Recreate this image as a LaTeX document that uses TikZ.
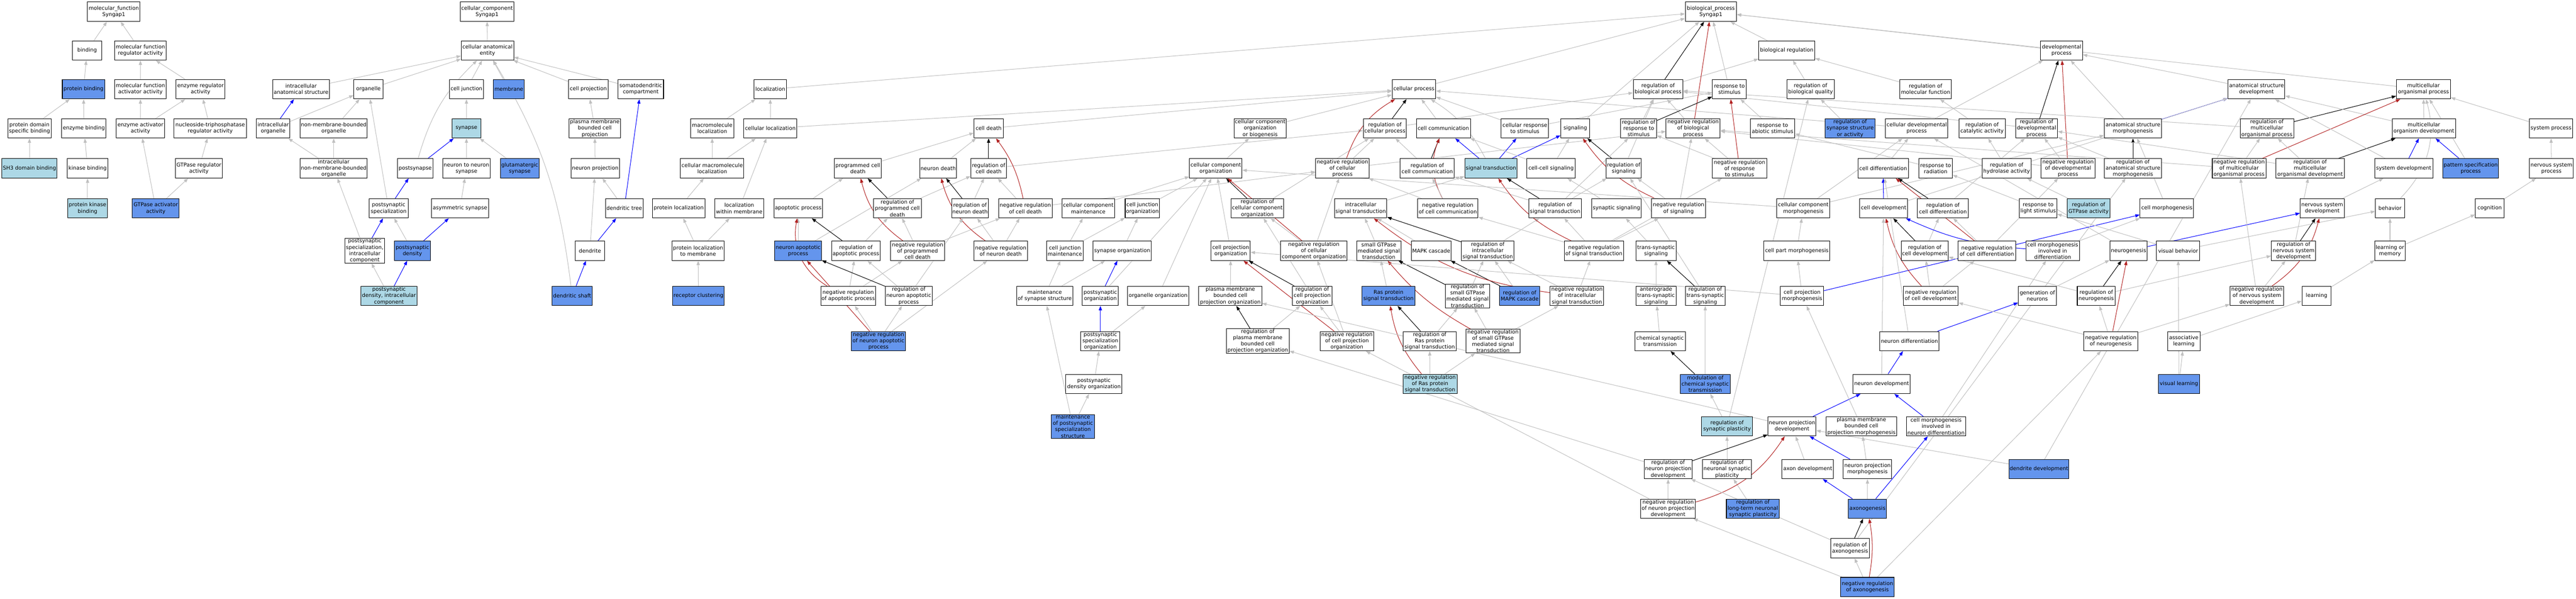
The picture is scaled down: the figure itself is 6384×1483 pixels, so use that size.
\documentclass[tikz,border=0pt]{standalone}
\usepackage{fontspec}
\setmainfont{DejaVu Sans}
\usepackage{tikz}
\usetikzlibrary{arrows.meta, backgrounds, positioning}
\definecolor{hitblue}{HTML}{6495ED}
\definecolor{hitlight}{HTML}{ADD8E6}
\definecolor{isagray}{HTML}{C0C0C0}
\definecolor{negred}{HTML}{B22222}
\tikzset{
	term/.style={draw=black, line width=1.3pt, fill=white, rectangle, align=center,
		minimum height=48pt, inner xsep=2pt, inner ysep=1pt,
		font=\fontsize{13pt}{15.5pt}\selectfont},
	hit/.style={term, fill=hitblue},
	hitl/.style={term, fill=hitlight},
	wd/.style={minimum width=#1pt}
}

\begin{document}
\begin{tikzpicture}[x=1pt, y=-1pt,
	isa/.style={draw=isagray, line width=1.3pt, -{Triangle[length=11pt,width=8pt]}},
	partof/.style={isa, draw=blue},
	reg/.style={isa, draw=black},
	negreg/.style={isa, draw=negred}]
\useasboundingbox (0,0) rectangle (6384,1483);

% row 0
\node[term,wd=130] (mf) at (282,29) {molecular\_function\\Syngap1};
\node[term,wd=133] (cc) at (1207,29) {cellular\_component\\Syngap1};
\node[term,wd=127] (bp) at (4240,29) {biological\_process\\Syngap1};

% row 1
\node[term,wd=72] (bind) at (216,125) {binding};
\node[term,wd=128] (mfra) at (348,125) {molecular function\\regulator activity};
\node[term,wd=130] (cae) at (1208,125) {cellular anatomical\\entity};
\node[term,wd=139] (bioreg) at (4428,125) {biological regulation};
\node[term,wd=104] (devp) at (5109,125) {developmental\\process};

% row 2
\node[hit,wd=105] (pbind) at (207,221) {protein binding};
\node[term,wd=128] (mfaa) at (348,221) {molecular function\\activator activity};
\node[term,wd=121] (enzra) at (497,221) {enzyme regulator\\activity};
\node[term,wd=141] (ias) at (746,221) {intracellular\\anatomical structure};
\node[term,wd=72] (orgl) at (913,221) {organelle};
\node[term,wd=84] (cjunc) at (1156,221) {cell junction};
\node[hit,wd=77] (memb) at (1261,221) {membrane};
\node[term,wd=99] (cproj) at (1458,221) {cell projection};
\node[term,wd=113] (sdc) at (1588,221) {somatodendritic\\compartment};
\node[term,wd=81] (loc) at (1909,221) {localization};
\node[term,wd=108] (cellp) at (3504,221) {cellular process};
\node[term,wd=123] (rbp) at (4109,221) {regulation of\\biological process};
\node[term,wd=84] (rstim) at (4286,221) {response to\\stimulus};
\node[term,wd=118] (rbq) at (4487,221) {regulation of\\biological quality};
\node[term,wd=128] (rmf) at (4772,221) {regulation of\\molecular function};
\node[term,wd=141] (asd) at (5592,221) {anatomical structure\\development};
\node[term,wd=134] (mop) at (6006,221) {multicellular\\organismal process};

% row 3
\node[term,wd=107] (pdsb) at (73,318) {protein domain\\specific binding};
\node[term,wd=110] (enzb) at (208,318) {enzyme binding};
\node[term,wd=120] (enzaa) at (348,318) {enzyme activator\\activity};
\node[term,wd=179] (ntpra) at (521,318) {nucleoside-triphosphatase\\regulator activity};
\node[term,wd=83] (iorg) at (677,318) {intracellular\\organelle};
\node[term,wd=166] (nmbo) at (827,318) {non-membrane-bounded\\organelle};
\node[hitl,wd=72] (syn) at (1156,318) {synapse};
\node[term,wd=128] (pmbcp) at (1474,318) {plasma membrane\\bounded cell\\projection};
\node[term,wd=107] (mloc) at (1765,318) {macromolecule\\localization};
\node[term,wd=132] (cloc) at (1909,318) {cellular localization};
\node[term,wd=72] (cdeath) at (2450,318) {cell death};
\node[term,wd=130] (ccob) at (3123,318) {cellular component\\organization\\or biogenesis};
\node[term,wd=107] (rcp) at (3432,318) {regulation of\\cellular process};
\node[term,wd=134] (ccomm) at (3577,318) {cell communication};
\node[term,wd=117] (crs) at (3779,318) {cellular response\\to stimulus};
\node[term,wd=72] (sig) at (3904,318) {signaling};
\node[term,wd=89] (rrs) at (4061,318) {regulation of\\response to\\stimulus};
\node[term,wd=134] (nrbp) at (4196,318) {negative regulation\\of biological\\process};
\node[term,wd=110] (ras) at (4393,318) {response to\\abiotic stimulus};
\node[hit,wd=123] (rssa) at (4585,318) {regulation of\\synapse structure\\or activity};
\node[term,wd=155] (cdp) at (4750,318) {cellular developmental\\process};
\node[term,wd=115] (rca) at (4912,318) {regulation of\\catalytic activity};
\node[term,wd=104] (rdp) at (5047,318) {regulation of\\developmental\\process};
\node[term,wd=142] (asm) at (5286,318) {anatomical structure\\morphogenesis};
\node[term,wd=133] (rmop) at (5618,318) {regulation of\\multicellular\\organismal process};
\node[term,wd=157] (mod) at (6007,318) {multicellular\\organism development};
\node[term,wd=107] (sysp) at (6322,318) {system process};

% row 4
\node[hitl,wd=137] (sh3) at (73,417) {SH3 domain binding};
\node[term,wd=101] (kinb) at (217,417) {kinase binding};
\node[term,wd=117] (gtpra) at (493,417) {GTPase regulator\\activity};
\node[term,wd=166] (inmbo) at (827,417) {intracellular\\non-membrane-bounded\\organelle};
\node[term,wd=89] (psyn) at (1029,417) {postsynapse};
\node[term,wd=118] (n2n) at (1156,417) {neuron to neuron\\synapse};
\node[hit,wd=96] (gsyn) at (1288,417) {glutamatergic\\synapse};
\node[term,wd=120] (nproj) at (1475,417) {neuron projection};
\node[term,wd=157] (cmloc) at (1765,417) {cellular macromolecule\\localization};
\node[term,wd=117] (pcd) at (2126,417) {programmed cell\\death};
\node[term,wd=91] (ndeath) at (2325,417) {neuron death};
\node[term,wd=88] (rcd) at (2450,417) {regulation of\\cell death};
\node[term,wd=130] (cco) at (3013,417) {cellular component\\organization};
\node[term,wd=133] (nrcp) at (3327,417) {negative regulation\\of cellular\\process};
\node[term,wd=134] (rcc) at (3537,417) {regulation of\\cell communication};
\node[hitl,wd=130] (st) at (3695,417) {signal transduction};
\node[term,wd=120] (ccs) at (3844,417) {cell-cell signaling};
\node[term,wd=87] (rsig) at (4024,417) {regulation of\\signaling};
\node[term,wd=135] (nrrs) at (4311,417) {negative regulation\\of response\\to stimulus};
\node[term,wd=125] (cdiff) at (4667,417) {cell differentiation};
\node[term,wd=83] (rrad) at (4797,417) {response to\\radiation};
\node[term,wd=122] (rha) at (4973,417) {regulation of\\hydrolase activity};
\node[term,wd=133] (nrdp) at (5125,417) {negative regulation\\of developmental\\process};
\node[term,wd=142] (rasm) at (5286,417) {regulation of\\anatomical structure\\morphogenesis};
\node[term,wd=133] (nrmop) at (5549,417) {negative regulation\\of multicellular\\organismal process};
\node[term,wd=169] (rmod) at (5725,417) {regulation of\\multicellular\\organismal development};
\node[term,wd=144] (sysd) at (5957,417) {system development};
\node[hit,wd=138] (psp) at (6123,417) {pattern specification\\process};
\node[term,wd=109] (nsp) at (6323,417) {nervous system\\process};

% row 5
\node[hitl,wd=99] (pkb) at (217,516) {protein kinase\\binding};
\node[hit,wd=116] (gtpaa) at (386,516) {GTPase activator\\activity};
\node[term,wd=97] (pss) at (963,516) {postsynaptic\\specialization};
\node[term,wd=142] (asyn) at (1140,516) {asymmetric synapse};
\node[term,wd=93] (dtree) at (1547,516) {dendritic tree};
\node[term,wd=130] (ploc) at (1682,516) {protein localization};
\node[term,wd=121] (lwm) at (1832,516) {localization\\within membrane};
\node[term,wd=120] (apop) at (1978,516) {apoptotic process};
\node[term,wd=118] (rpcd) at (2224,516) {regulation of\\programmed cell\\death};
\node[term,wd=91] (rnd) at (2404,516) {regulation of\\neuron death};
\node[term,wd=133] (nrcd) at (2541,516) {negative regulation\\of cell death};
\node[term,wd=131] (ccm) at (2697,516) {cellular component\\maintenance};
\node[term,wd=85] (cjo) at (2831,516) {cell junction\\organization};
\node[term,wd=130] (rcco) at (3116,516) {regulation of\\cellular component\\organization};
\node[term,wd=130] (ist) at (3372,516) {intracellular\\signal transduction};
\node[term,wd=150] (nrcc) at (3588,516) {negative regulation\\of cell communication};
\node[term,wd=130] (rst) at (3854,516) {regulation of\\signal transduction};
\node[term,wd=123] (ssig) at (4006,516) {synaptic signaling};
\node[term,wd=134] (nrsig) at (4160,516) {negative regulation\\of signaling};
\node[term,wd=131] (ccmorph) at (4469,516) {cellular component\\morphogenesis};
\node[term,wd=118] (cdev) at (4668,516) {cell development};
\node[term,wd=126] (rcdiff) at (4815,516) {regulation of\\cell differentiation};
\node[term,wd=93] (rls) at (5051,516) {response to\\light stimulus};
\node[hitl,wd=106] (rgtpa) at (5176,516) {regulation of\\GTPase activity};
\node[term,wd=133] (cmorph) at (5370,516) {cell morphogenesis};
\node[term,wd=109] (nsd) at (5755,516) {nervous system\\development};
\node[term,wd=72] (behav) at (5923,516) {behavior};
\node[term,wd=71] (cogn) at (6170,516) {cognition};

% row 6
\node[term,wd=99] (pssic) at (904,621) {postsynaptic\\specialization,\\intracellular\\component};
\node[hit,wd=89] (psd) at (1022,621) {postsynaptic\\density};
\node[term,wd=73] (dend) at (1462,621) {dendrite};
\node[term,wd=130] (plm) at (1730,621) {protein localization\\to membrane};
\node[hit,wd=116] (napop) at (1978,621) {neuron apoptotic\\process};
\node[term,wd=120] (rap) at (2121,621) {regulation of\\apoptotic process};
\node[term,wd=133] (nrpcd) at (2274,621) {negative regulation\\of programmed\\cell death};
\node[term,wd=133] (nrnd) at (2480,621) {negative regulation\\of neuron death};
\node[term,wd=90] (cjm) at (2639,621) {cell junction\\maintenance};
\node[term,wd=144] (sorg) at (2781,621) {synapse organization};
\node[term,wd=97] (cpo) at (3050,621) {cell projection\\organization};
\node[term,wd=164] (nrcco) at (3256,621) {negative regulation\\of cellular\\component organization};
\node[term,wd=110] (sgst) at (3417,621) {small GTPase\\mediated signal\\transduction};
\node[term,wd=99] (mapk) at (3547,621) {MAPK cascade};
\node[term,wd=130] (rist) at (3687,621) {regulation of\\intracellular\\signal transduction};
\node[term,wd=147] (nrst) at (3950,621) {negative regulation\\of signal transduction};
\node[term,wd=99] (tss) at (4104,621) {trans-synaptic\\signaling};
\node[term,wd=163] (cpm) at (4453,621) {cell part morphogenesis};
\node[term,wd=117] (rcdev) at (4770,621) {regulation of\\cell development};
\node[term,wd=142] (nrcdiff) at (4924,621) {negative regulation\\of cell differentiation};
\node[term,wd=133] (cmid) at (5087,621) {cell morphogenesis\\involved in\\differentiation};
\node[term,wd=93] (ngen) at (5275,621) {neurogenesis};
\node[term,wd=107] (vbeh) at (5398,621) {visual behavior};
\node[term,wd=110] (rnsd) at (5684,621) {regulation of\\nervous system\\development};
\node[term,wd=75] (lom) at (5923,621) {learning or\\memory};

% row 7
\node[hitl,wd=139] (psdic) at (964,733) {postsynaptic\\density, intracellular\\component};
\node[hit,wd=99] (dshaft) at (1418,733) {dendritic shaft};
\node[hit,wd=128] (rclust) at (1731,733) {receptor clustering};
\node[term,wd=133] (nrap) at (2102,733) {negative regulation\\of apoptotic process};
\node[term,wd=116] (rnap) at (2252,733) {regulation of\\neuron apoptotic\\process};
\node[term,wd=139] (mss) at (2589,733) {maintenance\\of synapse structure};
\node[term,wd=89] (pso) at (2727,733) {postsynaptic\\organization};
\node[term,wd=152] (oorg) at (2870,733) {organelle organization};
\node[term,wd=156] (pmbcpo) at (3049,733) {plasma membrane\\bounded cell\\projection organization};
\node[term,wd=99] (rcpo) at (3252,733) {regulation of\\cell projection\\organization};
\node[hit,wd=131] (rpst) at (3441,733) {Ras protein\\signal transduction};
\node[term,wd=110] (rsgst) at (3637,733) {regulation of\\small GTPase\\mediated signal\\transduction};
\node[hit,wd=100] (rmapk) at (3766,733) {regulation of\\MAPK cascade};
\node[term,wd=133] (nrist) at (3908,733) {negative regulation\\of intracellular\\signal transduction};
\node[term,wd=99] (atss) at (4104,733) {anterograde\\trans-synaptic\\signaling};
\node[term,wd=99] (rtss) at (4226,733) {regulation of\\trans-synaptic\\signaling};
\node[term,wd=107] (cpmorph) at (4466,733) {cell projection\\morphogenesis};
\node[term,wd=136] (nrcdev) at (4785,733) {negative regulation\\of cell development};
\node[term,wd=94] (genn) at (5049,733) {generation of\\neurons};
\node[term,wd=94] (rngen) at (5195,733) {regulation of\\neurogenesis};
\node[term,wd=133] (nrnsd) at (5593,733) {negative regulation\\of nervous system\\development};
\node[term,wd=72] (learn) at (5741,733) {learning};

% row 8
\node[hit,wd=134] (nrnap) at (2177,845) {negative regulation\\of neuron apoptotic\\process};
\node[term,wd=97] (psso) at (2727,845) {postsynaptic\\specialization\\organization};
\node[term,wd=156] (rpmbcpo) at (3117,845) {regulation of\\plasma membrane\\bounded cell\\projection organization};
\node[term,wd=133] (nrcpo) at (3338,845) {negative regulation\\of cell projection\\organization};
\node[term,wd=131] (rrpst) at (3543,845) {regulation of\\Ras protein\\signal transduction};
\node[term,wd=134] (nrsgst) at (3700,845) {negative regulation\\of small GTPase\\mediated signal\\transduction};
\node[term,wd=125] (cst) at (4114,845) {chemical synaptic\\transmission};
\node[term,wd=147] (ndiff) at (4732,845) {neuron differentiation};
\node[term,wd=133] (nrngen) at (5231,845) {negative regulation\\of neurogenesis};
\node[term,wd=80] (alearn) at (5412,845) {associative\\learning};

% rows 9 to 14
\node[term,wd=139] (psdo) at (2711,951) {postsynaptic\\density organization};
\node[hitl,wd=134] (nrrpst) at (3544,951) {negative regulation\\of Ras protein\\signal transduction};
\node[hit,wd=124] (mcst) at (4226,951) {modulation of\\chemical synaptic\\transmission};
\node[term,wd=141] (ndev) at (4663,951) {neuron development};
\node[hit,wd=102] (vlearn) at (5400,951) {visual learning};
\node[hit,wd=107] (mpss) at (2659,1056) {maintenance\\of postsynaptic\\specialization\\structure};
\node[hitl,wd=126] (rsp) at (4280,1056) {regulation of\\synaptic plasticity};
\node[term,wd=119] (npd) at (4441,1056) {neuron projection\\development};
\node[term,wd=174] (pmbcpm) at (4613,1056) {plasma membrane\\bounded cell\\projection morphogenesis};
\node[term,wd=146] (cmind) at (4798,1056) {cell morphogenesis\\involved in\\neuron differentiation};
\node[term,wd=119] (rnpd) at (4134,1162) {regulation of\\neuron projection\\development};
\node[term,wd=122] (rnsp) at (4280,1162) {regulation of\\neuronal synaptic\\plasticity};
\node[term,wd=128] (axdev) at (4480,1162) {axon development};
\node[term,wd=120] (npm) at (4628,1162) {neuron projection\\morphogenesis};
\node[hit,wd=149] (ddev) at (5053,1162) {dendrite development};
\node[term,wd=135] (nrnpd) at (4134,1260) {negative regulation\\of neuron projection\\development};
\node[hit,wd=131] (rltp) at (4344,1260) {regulation of\\long-term neuronal\\synaptic plasticity};
\node[hit,wd=95] (axon) at (4628,1260) {axonogenesis};
\node[term,wd=96] (rax) at (4585,1358) {regulation of\\axonogenesis};
\node[hit,wd=133] (nrax) at (4628,1454) {negative regulation\\of axonogenesis};

\begin{scope}[on background layer]
% molecular function
\draw[isa] (bind) -- (mf); \draw[isa] (mfra) -- (mf);
\draw[isa] (pbind) -- (bind); \draw[isa] (mfaa) -- (mfra); \draw[isa] (enzra) -- (mfra);
\draw[isa] (pdsb) -- (pbind); \draw[isa] (enzb) -- (pbind); \draw[isa] (enzaa) -- (mfaa);
\draw[isa] (enzaa) -- (enzra); \draw[isa] (ntpra) -- (enzra);
\draw[isa] (sh3) -- (pdsb); \draw[isa] (kinb) -- (enzb); \draw[isa] (gtpra) -- (ntpra);
\draw[isa] (pkb) -- (kinb); \draw[isa] (gtpaa) -- (enzaa); \draw[isa] (gtpaa) -- (gtpra);
% cellular component
\draw[isa] (cae) -- (cc); \draw[isa] (ias) -- (cae); \draw[isa] (orgl) -- (cae);
\draw[isa] (cjunc) -- (cae); \draw[isa] (memb) -- (cae); \draw[isa] (cproj) -- (cae);
\draw[isa] (sdc) -- (cae); \draw[isa] (psyn) to[bend left=15] (cae); \draw[isa] (dshaft) to[bend right=12] (cae);
\draw[partof] (iorg) -- (ias); \draw[isa] (iorg) -- (orgl); \draw[isa] (nmbo) -- (orgl);
\draw[isa] (inmbo) -- (iorg); \draw[isa] (inmbo) -- (nmbo);
\draw[isa] (syn) -- (cjunc); \draw[partof] (psyn) -- (syn); \draw[isa] (n2n) -- (syn);
\draw[isa] (gsyn) -- (syn); \draw[isa] (asyn) -- (n2n);
\draw[partof] (pss) -- (psyn); \draw[isa] (pss) -- (orgl);
\draw[partof] (pssic) -- (pss); \draw[isa] (pssic) -- (inmbo);
\draw[isa] (psd) -- (pss); \draw[partof] (psd) -- (asyn);
\draw[isa] (psdic) -- (pssic); \draw[partof] (psdic) -- (psd);
\draw[isa] (pmbcp) -- (cproj); \draw[isa] (nproj) -- (pmbcp);
\draw[isa] (dtree) -- (nproj); \draw[partof] (dtree) -- (sdc);
\draw[isa] (dend) -- (nproj); \draw[partof] (dend) -- (dtree); \draw[partof] (dshaft) -- (dend);
% localization
\draw[isa] (loc) -- (bp); \draw[isa] (mloc) -- (loc); \draw[isa] (cloc) -- (loc);
\draw[isa] (cloc) -- (cellp); \draw[isa] (cmloc) -- (mloc); \draw[isa] (cmloc) -- (cloc);
\draw[isa] (ploc) -- (cmloc); \draw[isa] (lwm) -- (cloc);
\draw[isa] (plm) -- (ploc); \draw[isa] (plm) -- (lwm); \draw[isa] (rclust) -- (plm);
% cell death
\draw[isa] (cdeath) -- (cellp); \draw[isa] (pcd) -- (cdeath); \draw[isa] (ndeath) -- (cdeath);
\draw[reg] (rcd) -- (cdeath); \draw[isa] (rcd) -- (rcp); \draw[isa] (apop) -- (pcd);
\draw[reg] (rpcd) -- (pcd); \draw[isa] (rpcd) -- (rcd);
\draw[reg] (rnd) -- (ndeath); \draw[isa] (rnd) -- (rcd);
\draw[negreg] (nrcd) to[bend right=12] (cdeath); \draw[isa] (nrcd) -- (rcd); \draw[isa] (nrcd) -- (nrcp);
\draw[isa] (napop) -- (apop); \draw[isa] (napop) -- (ndeath);
\draw[reg] (rap) -- (apop); \draw[isa] (rap) -- (rpcd);
\draw[negreg] (nrpcd) to[bend left=20] (pcd); \draw[isa] (nrpcd) -- (rpcd); \draw[isa] (nrpcd) -- (nrcd);
\draw[negreg] (nrnd) to[bend left=20] (ndeath); \draw[isa] (nrnd) -- (rnd); \draw[isa] (nrnd) -- (nrcd);
\draw[negreg] (nrap) to[bend left=35] (apop); \draw[isa] (nrap) -- (rap); \draw[isa] (nrap) -- (nrpcd);
\draw[reg] (rnap) -- (napop); \draw[isa] (rnap) -- (rap); \draw[isa] (rnap) -- (rnd);
\draw[negreg] (nrnap) -- (napop); \draw[isa] (nrnap) -- (nrap);
\draw[isa] (nrnap) -- (rnap); \draw[isa] (nrnap) -- (nrnd);
% component organization
\draw[isa] (ccob) -- (cellp); \draw[isa] (cco) -- (ccob); \draw[isa] (ccm) -- (cco);
\draw[isa] (cjo) -- (cco); \draw[reg] (rcco) -- (cco); \draw[isa] (rcco) -- (rcp);
\draw[isa] (cjm) -- (ccm); \draw[isa] (cjm) -- (cjo); \draw[isa] (sorg) -- (cjo);
\draw[isa] (cpo) -- (cco); \draw[negreg] (nrcco) -- (cco); \draw[isa] (nrcco) -- (rcco); \draw[isa] (nrcco) -- (nrcp);
\draw[isa] (mss) -- (cjm); \draw[isa] (mss) -- (sorg);
\draw[partof] (pso) -- (sorg); \draw[isa] (pso) -- (cco); \draw[isa] (oorg) -- (cco);
\draw[isa] (pmbcpo) -- (cpo); \draw[reg] (rcpo) -- (cpo); \draw[isa] (rcpo) -- (rcco);
\draw[partof] (psso) -- (pso); \draw[isa] (psso) -- (oorg);
\draw[reg] (rpmbcpo) -- (pmbcpo); \draw[isa] (rpmbcpo) -- (rcpo);
\draw[negreg] (nrcpo) -- (cpo); \draw[isa] (nrcpo) -- (rcpo); \draw[isa] (nrcpo) -- (nrcco);
\draw[isa] (psdo) -- (psso); \draw[isa] (mpss) -- (psdo); \draw[isa] (mpss) -- (mss);
% signaling
\draw[isa] (cellp) -- (bp); \draw[isa] (sig) -- (bp); \draw[isa] (rstim) -- (bp);
\draw[isa] (ccomm) -- (cellp); \draw[isa] (crs) -- (cellp); \draw[isa] (crs) -- (rstim);
\draw[reg] (rcp) -- (cellp); \draw[isa] (rcp) -- (rbp);
\draw[reg] (rbp) -- (bp); \draw[isa] (rbp) -- (bioreg);
\draw[negreg] (nrbp) -- (bp); \draw[isa] (nrbp) -- (rbp);
\draw[reg] (rrs) -- (rstim); \draw[isa] (rrs) -- (rbp);
\draw[negreg] (nrcp) to[bend left=20] (cellp); \draw[isa] (nrcp) -- (rcp); \draw[isa] (nrcp) -- (nrbp);
\draw[reg] (rcc) -- (ccomm); \draw[isa] (rcc) -- (rcp);
\draw[partof] (st) -- (ccomm); \draw[partof] (st) -- (crs); \draw[partof] (st) -- (sig);
\draw[isa] (st) to[bend right=15] (cellp);
\draw[isa] (ccs) -- (sig); \draw[isa] (ccs) -- (ccomm);
\draw[reg] (rsig) -- (sig); \draw[isa] (rsig) -- (rbp);
\draw[negreg] (nrrs) -- (rstim); \draw[isa] (nrrs) -- (rrs); \draw[isa] (nrrs) -- (nrbp);
\draw[isa] (ist) -- (st);
\draw[negreg] (nrcc) to[bend left=25] (ccomm); \draw[isa] (nrcc) -- (rcc); \draw[isa] (nrcc) -- (nrcp);
\draw[reg] (rst) -- (st); \draw[isa] (rst) -- (rsig); \draw[isa] (rst) -- (rcc); \draw[isa] (rst) -- (rrs);
\draw[isa] (ssig) -- (ccs);
\draw[negreg] (nrsig) to[bend left=15] (sig); \draw[isa] (nrsig) -- (rsig); \draw[isa] (nrsig) -- (nrbp);
\draw[isa] (sgst) -- (ist); \draw[isa] (mapk) -- (ist);
\draw[reg] (rist) -- (ist); \draw[isa] (rist) -- (rst);
\draw[negreg] (nrst) to[bend left=15] (st); \draw[isa] (nrst) -- (rst); \draw[isa] (nrst) -- (nrsig);
\draw[isa] (nrst) -- (nrcc); \draw[isa] (nrst) -- (nrrs);
\draw[isa] (tss) -- (ssig);
\draw[isa] (rpst) -- (sgst); \draw[reg] (rsgst) -- (sgst); \draw[isa] (rsgst) -- (rist);
\draw[reg] (rmapk) -- (mapk); \draw[isa] (rmapk) -- (rist);
\draw[negreg] (nrist) to[bend left=15] (ist); \draw[isa] (nrist) -- (rist); \draw[isa] (nrist) -- (nrst);
\draw[isa] (atss) -- (tss); \draw[reg] (rtss) -- (tss); \draw[isa] (rtss) -- (rsig);
\draw[reg] (rrpst) -- (rpst); \draw[isa] (rrpst) -- (rsgst);
\draw[negreg] (nrsgst) to[bend left=10] (sgst); \draw[isa] (nrsgst) -- (rsgst); \draw[isa] (nrsgst) -- (nrist);
\draw[negreg] (nrrpst) to[bend left=15] (rpst); \draw[isa] (nrrpst) -- (rrpst); \draw[isa] (nrrpst) -- (nrsgst);
\draw[isa] (cst) -- (atss); \draw[reg] (mcst) -- (cst); \draw[isa] (mcst) -- (rtss);
\draw[isa] (rsp) -- (mcst); \draw[isa] (rsp) -- (rbq); \draw[isa] (rnsp) -- (rsp); \draw[isa] (rltp) -- (rnsp);
% development
\draw[isa] (bioreg) -- (bp); \draw[isa] (devp) -- (bp); \draw[isa] (mop) -- (bp);
\draw[isa] (rbq) -- (bioreg); \draw[isa] (rmf) -- (bioreg);
\draw[isa] (ras) -- (rstim); \draw[isa] (rssa) -- (rbq);
\draw[isa] (cdp) -- (devp); \draw[isa] (cdp) -- (cellp); \draw[isa] (rca) -- (rmf);
\draw[reg] (rdp) -- (devp); \draw[isa] (rdp) -- (rbp);
\draw[isa] (asm) -- (devp); \draw[partof] (asm) -- (asd);
\draw[isa] (cdiff) -- (cdp); \draw[isa] (rrad) -- (ras); \draw[isa] (rha) -- (rca);
\draw[negreg] (nrdp) -- (devp); \draw[isa] (nrdp) -- (rdp); \draw[isa] (nrdp) -- (nrbp);
\draw[reg] (rasm) -- (asm); \draw[isa] (rasm) -- (rdp);
\draw[isa] (ccmorph) -- (cco); \draw[isa] (ccmorph) -- (cdp); \draw[isa] (ccmorph) -- (asm);
\draw[partof] (cdev) -- (cdiff); \draw[isa] (cdev) -- (asd);
\draw[reg] (rcdiff) -- (cdiff); \draw[isa] (rcdiff) -- (rdp);
\draw[isa] (rls) -- (rrad); \draw[isa] (rgtpa) -- (rha); \draw[isa] (cmorph) -- (asm);
\draw[isa] (cpm) -- (ccmorph);
\draw[reg] (rcdev) -- (cdev); \draw[isa] (rcdev) -- (rcdiff);
\draw[negreg] (nrcdiff) -- (cdiff); \draw[isa] (nrcdiff) -- (rcdiff); \draw[isa] (nrcdiff) -- (nrdp);
\draw[partof] (cmid) to[bend left=10] (cdev); \draw[isa] (cmid) -- (cmorph);
\draw[partof] (ngen) -- (nsd); \draw[isa] (ngen) -- (cdp);
\draw[isa] (cpmorph) -- (cpm); \draw[isa] (cpmorph) -- (cpo); \draw[partof] (cpmorph) -- (cmorph);
\draw[negreg] (nrcdev) to[bend left=15] (cdev); \draw[isa] (nrcdev) -- (rcdev); \draw[isa] (nrcdev) -- (nrcdiff);
\draw[isa] (genn) -- (ngen);
\draw[reg] (rngen) -- (ngen); \draw[isa] (rngen) -- (rcdev); \draw[isa] (rngen) -- (rnsd);
\draw[partof] (ndiff) -- (genn); \draw[isa] (ndiff) -- (cdiff);
\draw[negreg] (nrngen) -- (ngen); \draw[isa] (nrngen) -- (rngen);
\draw[isa] (nrngen) -- (nrcdev); \draw[isa] (nrngen) -- (nrnsd);
\draw[partof] (ndev) -- (ndiff); \draw[isa] (ndev) -- (cdev);
\draw[partof] (npd) -- (ndev); \draw[isa] (npd) -- (pmbcpo);
\draw[isa] (pmbcpm) -- (cpmorph);
\draw[partof] (cmind) -- (ndev); \draw[isa] (cmind) -- (cmid);
\draw[isa] (axdev) -- (npd); \draw[partof] (npm) -- (npd); \draw[isa] (npm) -- (pmbcpm);
\draw[isa] (ddev) -- (npd); \draw[isa] (ddev) -- (asd);
\draw[reg] (rnpd) -- (npd); \draw[isa] (rnpd) -- (rpmbcpo);
\draw[negreg] (nrnpd) to[bend right=20] (npd); \draw[isa] (nrnpd) -- (rnpd); \draw[isa] (nrnpd) -- (nrcpo);
\draw[partof] (axon) -- (axdev); \draw[isa] (axon) -- (npm); \draw[partof] (axon) -- (cmind);
\draw[reg] (rax) -- (axon); \draw[isa] (rax) -- (rnpd); \draw[isa] (rax) -- (rasm);
\draw[negreg] (nrax) to[bend right=10] (axon); \draw[isa] (nrax) -- (rax);
\draw[isa] (nrax) -- (nrnpd); \draw[isa] (nrax) -- (nrngen);
\draw[isa] (asd) -- (devp);
\draw[reg] (rmop) -- (mop); \draw[isa] (rmop) -- (rbp);
\draw[isa] (mod) -- (mop); \draw[isa] (mod) -- (asd); \draw[isa] (sysp) -- (mop);
\draw[negreg] (nrmop) -- (mop); \draw[isa] (nrmop) -- (rmop); \draw[isa] (nrmop) -- (nrbp);
\draw[reg] (rmod) -- (mod); \draw[isa] (rmod) -- (rmop); \draw[isa] (rmod) -- (rdp);
\draw[partof] (sysd) -- (mod); \draw[isa] (sysd) -- (asd);
\draw[partof] (psp) -- (mod); \draw[isa] (psp) -- (mop); \draw[isa] (nsp) -- (sysp);
\draw[isa] (nsd) -- (sysd); \draw[isa] (behav) to[bend right=30] (mop); \draw[isa] (cogn) -- (nsp);
\draw[isa] (vbeh) -- (behav); \draw[isa] (vbeh) -- (rls);
\draw[reg] (rnsd) -- (nsd); \draw[isa] (rnsd) -- (rmod);
\draw[isa] (lom) -- (behav); \draw[isa] (lom) -- (cogn);
\draw[negreg] (nrnsd) to[bend right=20] (nsd); \draw[isa] (nrnsd) -- (rnsd); \draw[isa] (nrnsd) -- (nrmop);
\draw[isa] (learn) -- (lom); \draw[isa] (alearn) -- (learn);
\draw[isa] (vlearn) -- (alearn); \draw[isa] (vlearn) -- (vbeh);
\end{scope}
\end{tikzpicture}
\end{document}
